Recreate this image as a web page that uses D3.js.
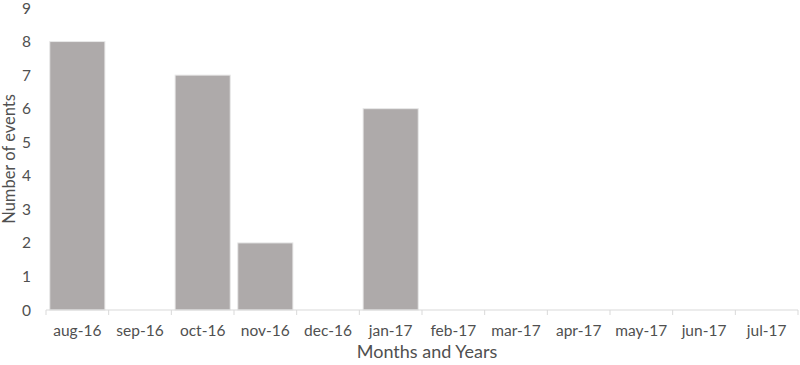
<!DOCTYPE html>
<html>
<head>
<meta charset="utf-8">
<script src="https://cdn.jsdelivr.net/npm/d3@7"></script>
<style>
  body { margin: 0; background: #fff; }
  text { font-family: Lato, "Open Sans", sans-serif; fill: #505050; }
</style>
</head>
<body>
<div id="chart"></div>
<script>
// Data
const months = ["aug-16", "sep-16", "oct-16", "nov-16", "dec-16", "jan-17",
                "feb-17", "mar-17", "apr-17", "may-17", "jun-17", "jul-17"];
const events = [8, 0, 7, 2, 0, 6, 0, 0, 0, 0, 0, 0];
const yTicks = [0, 1, 2, 3, 4, 5, 6, 7, 8, 9];

const w = 800, h = 365;

const svg = d3.select("#chart")
  .append("svg")
  .attr("width", w)
  .attr("height", h);

// Scales
const x = d3.scaleBand()
  .domain(months)
  .range([46, 798])
  .paddingInner(0.12)
  .paddingOuter(0.06);

const y = d3.scaleLinear()
  .domain([0, 9])
  .range([310, 8]);

// Bars
svg.append("g")
  .selectAll("rect")
  .data(months.map((m, i) => ({ month: m, value: events[i] })).filter(d => d.value > 0))
  .enter().append("rect")
  .attr("x", d => x(d.month))
  .attr("y", d => y(d.value))
  .attr("width", x.bandwidth())
  .attr("height", d => y(0) - y(d.value))
  .style("fill", "#aeaaaa")
  .style("stroke", "#e8e8e8")
  .style("stroke-width", 1);

// X axis line and tick marks between categories
const xAxis = svg.append("g");
xAxis.append("line")
  .attr("x1", 46).attr("x2", 798)
  .attr("y1", y(0)).attr("y2", y(0))
  .style("stroke", "#d9d9d9");

const step = x.step();
xAxis.selectAll(".tick-mark")
  .data(d3.range(months.length + 1))
  .enter().append("line")
  .attr("class", "tick-mark")
  .attr("x1", i => 46 + i * step)
  .attr("x2", i => 46 + i * step)
  .attr("y1", y(0)).attr("y2", y(0) + 5)
  .style("stroke", "#d9d9d9");

xAxis.selectAll(".x-label")
  .data(months)
  .enter().append("text")
  .attr("class", "x-label")
  .attr("x", d => x(d) + x.bandwidth() / 2)
  .attr("y", 336)
  .attr("text-anchor", "middle")
  .style("font-size", "15.5px")
  .text(d => d);

// Y tick labels
svg.append("g")
  .selectAll("text")
  .data(yTicks)
  .enter().append("text")
  .attr("x", 31)
  .attr("y", d => y(d) + 5.5)
  .attr("text-anchor", "end")
  .style("font-size", "15.5px")
  .text(d => d);

// Axis titles
svg.append("text")
  .attr("x", 427)
  .attr("y", 358)
  .attr("text-anchor", "middle")
  .style("font-size", "18px")
  .text("Months and Years");

svg.append("text")
  .attr("transform", `translate(15, ${y(4.5)}) rotate(-90)`)
  .attr("text-anchor", "middle")
  .style("font-size", "16.5px")
  .text("Number of events");
</script>
</body>
</html>
